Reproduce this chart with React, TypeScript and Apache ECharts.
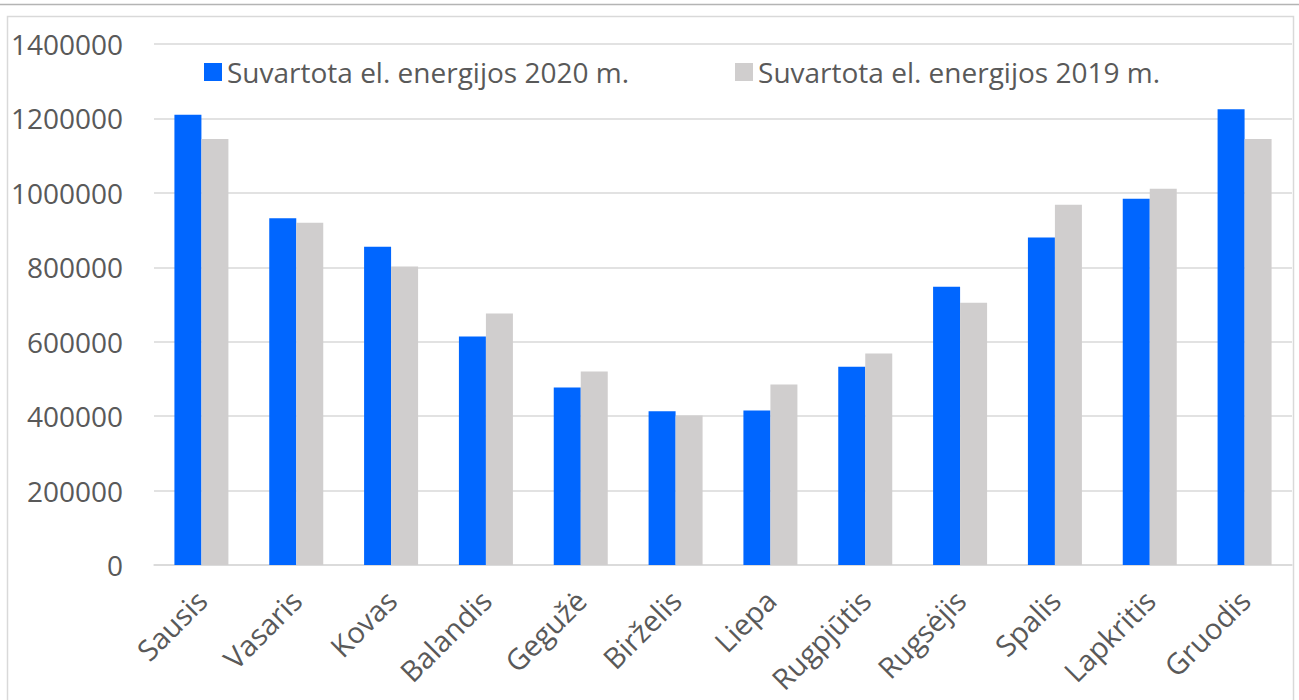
import React, { useEffect, useRef } from "react";
import * as echarts from "echarts";

const categories = ["Sausis", "Vasaris", "Kovas", "Balandis", "Gegužė", "Birželis", "Liepa", "Rugpjūtis", "Rugsėjis", "Spalis", "Lapkritis", "Gruodis"];
const series2020 = [1210000, 932000, 855000, 614000, 477000, 413000, 415000, 533000, 748000, 880000, 984000, 1225000];
const series2019 = [1145000, 920000, 802000, 676000, 520000, 402000, 485000, 568000, 705000, 968000, 1011000, 1145000];
const name2020 = "Suvartota el. energijos 2020 m.";
const name2019 = "Suvartota el. energijos 2019 m.";

export default function App() {
  const ref = useRef<HTMLDivElement>(null);
  useEffect(() => {
    document.body.style.margin = "0";
    const chart = echarts.init(ref.current!, null, { renderer: "svg" });
    const font = "'Open Sans', 'Noto Sans', sans-serif";
    chart.setOption({
      animation: false,
      backgroundColor: "#ffffff",
      textStyle: { fontFamily: font },
      graphic: [
        { type: "line", shape: { x1: 0, y1: 4.5, x2: 1299, y2: 4.5 }, style: { stroke: "#b4b4b4", lineWidth: 1.5 } },
        { type: "rect", shape: { x: 7.5, y: 16.5, width: 1286, height: 700 }, style: { fill: "none", stroke: "#d9d9d9", lineWidth: 1.5 } },
      ],
      legend: {
        top: 53,
        left: 199,
        itemWidth: 18,
        itemHeight: 18,
        itemGap: 106,
        icon: "rect",
        textStyle: { fontSize: 28, color: "#595959", fontFamily: font },
        data: [name2020, name2019],
      },
      grid: { left: 154, right: 7, top: 44, bottom: 135, containLabel: false },
      xAxis: {
        type: "category",
        data: categories,
        axisLine: { lineStyle: { color: "#d9d9d9", width: 1.5 } },
        axisTick: { show: false },
        axisLabel: { rotate: 45, fontSize: 29, color: "#595959", margin: 30, fontFamily: font },
      },
      yAxis: {
        type: "value",
        min: 0,
        max: 1400000,
        interval: 200000,
        axisLine: { show: false },
        axisTick: { show: false },
        splitLine: { lineStyle: { color: "#d9d9d9", width: 1.5 } },
        axisLabel: { fontSize: 28, color: "#595959", margin: 31, fontFamily: font, formatter: (v: number) => String(v) },
      },
      series: [
        { name: name2020, type: "bar", data: series2020, barWidth: 27, barGap: "0%", itemStyle: { color: "#0066ff" } },
        { name: name2019, type: "bar", data: series2019, barWidth: 27, barGap: "0%", itemStyle: { color: "#d0cece" } },
      ],
    });
    return () => chart.dispose();
  }, []);
  return <div ref={ref} style={{ width: 1299, height: 700 }} />;
}
